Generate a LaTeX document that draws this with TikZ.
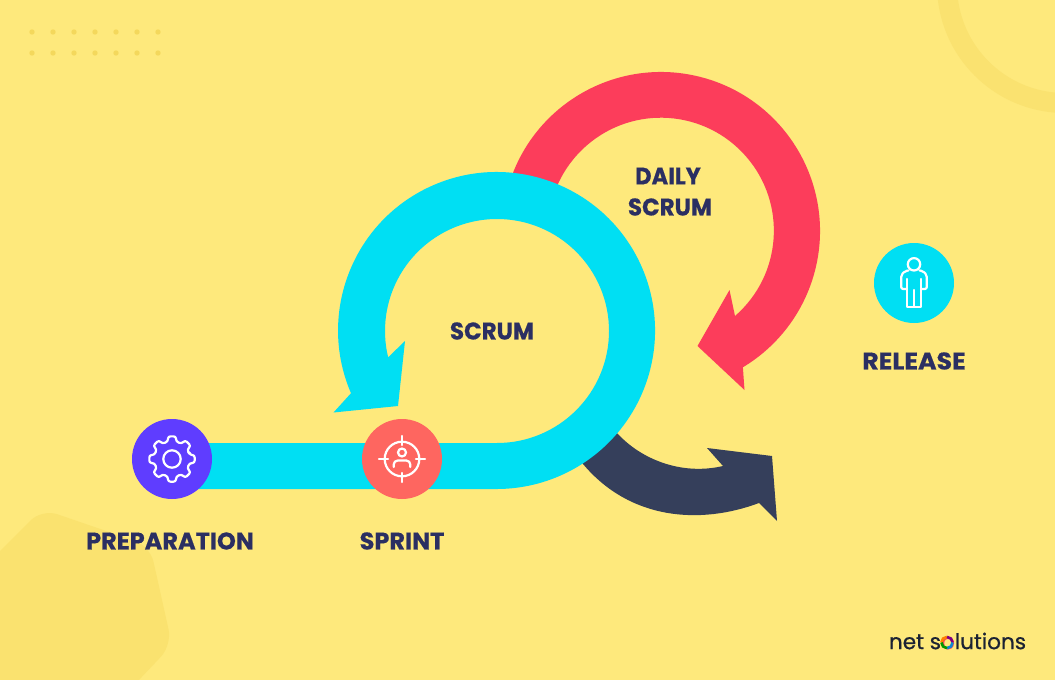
\documentclass[tikz,border=0pt]{standalone}
\usepackage{fontspec}
\newfontfamily\labfont{Poppins}[BoldFeatures={FakeBold=0.6}]
\newfontfamily\logofont{Poppins}[FakeBold=0.7]
\definecolor{bgc}{HTML}{FEE97C}
\definecolor{decor}{HTML}{FAE26F}
\definecolor{ringc}{HTML}{FAE270}
\definecolor{dotc}{HTML}{F4D85C}
\definecolor{cyanc}{HTML}{00DFF3}
\definecolor{redc}{HTML}{FC3D5B}
\definecolor{darkc}{HTML}{353F5B}
\definecolor{purplec}{HTML}{5F3DFF}
\definecolor{coralc}{HTML}{FE6660}
\definecolor{textc}{HTML}{2B2F62}
\definecolor{logoc}{HTML}{1B2233}
\tikzset{
  lab/.style={text=textc,font=\labfont\bfseries\fontsize{24}{24}\selectfont,inner sep=0pt,anchor=center},
  disc/.style={circle,minimum size=80pt,inner sep=0pt},
  icon/.style={draw=white,line width=2.2pt,line join=round,line cap=round},
  logoarc/.style={line width=2.6pt},
}
\begin{document}
\begin{tikzpicture}[x=1pt,y=1pt,yscale=-1]
\useasboundingbox (0,0) rectangle (1055,680);
\fill[bgc] (0,0) rectangle (1055,680);
% decorations
\begin{scope}
\clip (0,0) rectangle (1055,680);
\draw[ringc,line width=20pt] (1065,-15) circle[radius=118];
\fill[decor,rounded corners=16pt] (42,509) -- (150,546) -- (172,645) -- (120,700) -- (-60,700) -- (-60,611) -- cycle;
\end{scope}
\foreach \i in {0,...,6} {
  \fill[dotc] ({32+21*\i},32) circle[radius=2.7];
  \fill[dotc] ({32+21*\i},53) circle[radius=2.7];
}
% red arrow
\fill[redc] ([shift={(661,231)}]-165:159) arc[start angle=-165,end angle=59,radius=159]
  -- (744.5,390) -- (697.5,346) -- (729.5,290) -- (735,316)
  arc[start angle=49,end angle=-165,radius=113] -- cycle;
% dark arrow
\fill[darkc] (605,425) -- (618,434) .. controls (640,458) and (680,476) .. (723,466)
  -- (707,448) -- (772,456) -- (777,521) -- (759,503)
  .. controls (700,525) and (630,520) .. (583,464) -- (575,452) -- cycle;
% cyan arrow
\fill[cyanc] (172,443) -- (497,443) arc[start angle=90,end angle=-193.6,radius=112]
  -- (405,341) -- (398,406) -- (333.5,412.5) -- (351,393.2)
  arc[start angle=-203.3,end angle=90,radius=158.5] -- (172,489) -- cycle;
% discs
\node[disc,fill=purplec] (prep) at (172,459) {};
\node[disc,fill=coralc] (sprint) at (402,459) {};
\node[disc,fill=cyanc] (rel) at (914,283) {};
% gear
\begin{scope}[shift={(172,459)}]
\draw[icon] (0,0) circle[radius=8.7];
\draw[icon,rounded corners=2.4pt] (-13:18)
  \foreach \a in {0,45,...,315} { -- (\a-13:18) -- (\a-10:23) -- (\a+10:23) -- (\a+13:18) } -- cycle;
\end{scope}
% target
\begin{scope}[shift={(402,459)}]
\draw[icon] (0,0) circle[radius=17.3];
\draw[icon] (0,-23) -- (0,-14) (0,23) -- (0,14) (-23,0) -- (-14,0) (23,0) -- (14,0);
\draw[icon] (0,-6.5) circle[radius=4];
\draw[icon] (-8.3,8) -- (-8.3,5.5) arc[start angle=180,end angle=270,radius=4] -- (4.3,1.5) arc[start angle=270,end angle=360,radius=4] -- (8.3,8);
\end{scope}
% person
\draw[icon] (914,264.3) circle[radius=6.2];
\draw[icon,rounded corners=2pt] (908.5,270.5) -- (905,271) -- (901.2,275) -- (901.2,289) -- (906.9,289);
\draw[icon,rounded corners=2pt] (919.5,270.5) -- (923,271) -- (926.8,275) -- (926.8,289) -- (921.1,289);
\draw[icon] (906.9,279) -- (906.9,306.7) -- (921.1,306.7) -- (921.1,279);
\draw[icon] (914,290) -- (914,306.7);
% labels
\node[lab] (lprep) at (170,541) {PREPARATION};
\node[lab] (lsprint) at (402,541) {SPRINT};
\node[lab] (lscrum) at (492,331) {\scalebox{0.96}[1]{SCRUM}};
\node[lab] (ldaily) at (668,176) {\scalebox{0.94}[1]{DAILY}};
\node[lab] (lds) at (670,207) {\scalebox{0.96}[1]{SCRUM}};
\node[lab] (lrel) at (914,361) {\scalebox{1.05}[1]{RELEASE}};
% logo
\node[inner sep=0pt,anchor=center,text=logoc,font=\logofont\fontsize{21.6}{22}\selectfont] (logo) at (957.5,641) {net s\textcolor{redc}{o}lutions};
\draw[logoarc,color=orange] (logo.center) ++(-10.5,1.5) ++(-5.6,0) arc[start angle=180,end angle=270,radius=5.6];
\draw[logoarc,color=violet] (logo.center) ++(-10.5,1.5) ++(0,-5.6) arc[start angle=270,end angle=360,radius=5.6];
\draw[logoarc,color=cyan!70!blue] (logo.center) ++(-10.5,1.5) ++(5.6,0) arc[start angle=0,end angle=90,radius=5.6];
\draw[logoarc,color=green!60!black] (logo.center) ++(-10.5,1.5) ++(0,5.6) arc[start angle=90,end angle=180,radius=5.6];
\end{tikzpicture}
\end{document}
